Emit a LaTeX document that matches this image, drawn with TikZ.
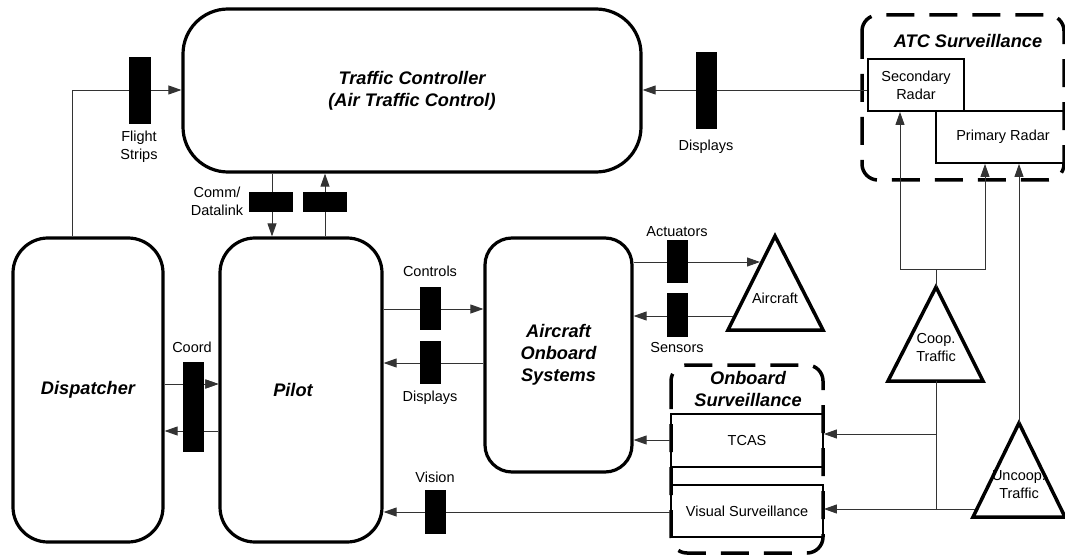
\documentclass[tikz,border=0pt]{standalone}
\usepackage{fontspec}
\setmainfont{Liberation Sans}
\usetikzlibrary{arrows.meta}
\tikzset{
  bigbox/.style={draw, line width=3.2pt, inner sep=0pt, align=center,
    font=\fontsize{18.2}{22}\selectfont\bfseries\itshape},
  radarbox/.style={draw, line width=1.8pt, inner sep=0pt, align=center,
    font=\fontsize{14.5}{18}\selectfont},
  bar/.style={fill=black, draw=none, inner sep=0pt},
  lbl/.style={inner sep=0pt, align=center, font=\fontsize{14.5}{18}\selectfont},
  title/.style={inner sep=0pt, align=center, font=\fontsize{18.2}{22}\selectfont\bfseries\itshape},
  conn/.style={line width=0.9pt, draw=black!80},
  arr/.style={conn, -{Triangle[length=13pt,width=9pt]}},
  tri/.style={draw, line width=3.5pt, line join=miter},
  grp/.style={draw, line width=3.5pt, dash pattern=on 28pt off 15pt, rounded corners=16pt}
}
\begin{document}
\begin{tikzpicture}[x=1pt,y=-1pt]
\useasboundingbox (0,0) rectangle (1065,556);
\clip (0,0) rectangle (1065,556);

% main boxes
\node[bigbox, rounded corners=45pt, minimum width=458pt, minimum height=163pt] (tc) at (412,90.5)
  {Traffic Controller\\(Air Traffic Control)};
\node[bigbox, rounded corners=35pt, minimum width=150pt, minimum height=304pt] (disp) at (88,390) {Dispatcher};
\node[bigbox, rounded corners=35pt, minimum width=162pt, minimum height=304pt] (pilot) at (301,390) {};
\node[title] (pilotText) at (293,390) {Pilot};
\node[bigbox, rounded corners=27pt, minimum width=147pt, minimum height=234pt] (aos) at (558.5,355)
  {Aircraft\\Onboard\\Systems};

% ATC surveillance
\node[radarbox, minimum width=134pt, minimum height=52pt] (prim) at (1003,137) {Primary Radar};
\node[radarbox, minimum width=96pt, minimum height=52pt] (sec) at (916,85) {Secondary\\Radar};
\draw[grp] (862,15) rectangle (1064,180);
\node[title] (atcTitle) at (968,41) {ATC Surveillance};

% onboard surveillance
\node[radarbox, minimum width=152pt, minimum height=53pt] (tcas) at (747,440.5) {TCAS};
\node[radarbox, minimum width=152pt, minimum height=52pt] (vis) at (747,511) {Visual Surveillance};
\draw[grp] (671,365) rectangle (823,553);
\node[title] (obTitle) at (748,389) {Onboard\\Surveillance};

% triangles
\draw[tri] (775,236) coordinate (acApex) -- (823,330) -- (728,330) -- cycle;
\node[lbl] (acText) at (775,298) {Aircraft};
\draw[tri] (936,287) coordinate (coopApex) -- (983,381) -- (888,381) coordinate (coopBL) -- cycle;
\coordinate (coopBase) at (936,381);
\node[lbl] (coopText) at (936,348) {Coop.\\Traffic};
\draw[tri] (1019,423) coordinate (uncApex) -- (1065,517) -- (973,517) -- cycle;
\node[lbl] (uncText) at (1019,485) {Uncoop.\\Traffic};

% named connector points
\coordinate (fsStart) at (72,238);
\coordinate (acIn) at (760,262);
\coordinate (acOut) at (733,316);
\coordinate (cj) at (936,269);
\coordinate (tcasJ) at (936,434);
\coordinate (visJ) at (936,509);
\coordinate (uncL) at (975,509);

\coordinate (fsY) at (0,90);
\coordinate (coordR) at (0,384);
\coordinate (coordL) at (0,431);

% connectors
\draw[arr] (disp.north -| fsStart) |- (tc.west |- fsY);
\draw[arr] (tc.south -| 272,0) -- (pilot.north -| 272,0);
\draw[arr] (pilot.north -| 325,0) -- (tc.south -| 325,0);
\draw[arr] (sec.west |- fsY) -- (tc.east |- fsY);
\draw[arr] (pilot.east |- 0,309) -- (aos.west |- 0,309);
\draw[arr] (aos.west |- 0,363) -- (pilot.east |- 0,363);
\draw[arr] (aos.east |- acIn) -- (acIn);
\draw[arr] (acOut) -- (aos.east |- acOut);
\draw[arr] (disp.east |- coordR) -- (pilot.west |- coordR);
\draw[arr] (pilot.west |- coordL) -- (disp.east |- coordL);
\draw[arr] (tcas.west |- 0,440) -- (aos.east |- 0,440);
\draw[arr] (vis.west |- 0,512) -- (pilot.east |- 0,512);
\draw[conn] (coopApex) -- (cj);
\draw[arr] (cj) -| (sec.south -| 900,0);
\draw[arr] (cj) -| (prim.south -| 985,0);
\draw[arr] (uncApex) -- (prim.south -| uncApex);
\draw[conn] (coopBase) -- (visJ);
\draw[arr] (tcasJ) -- (tcas.east |- tcasJ);
\draw[arr] (uncL) -- (vis.east |- uncL);

% bars
\node[bar, minimum width=22pt, minimum height=67pt] (fsbar) at (140,90.5) {};
\node[bar, minimum width=21pt, minimum height=77pt] (dispbar) at (706.5,90.5) {};
\node[bar, minimum width=44pt, minimum height=20pt] (cb1) at (271,202) {};
\node[bar, minimum width=44pt, minimum height=20pt] (cb2) at (325,202) {};
\node[bar, minimum width=21pt, minimum height=43pt] (ctrlbar) at (430.5,308.5) {};
\node[bar, minimum width=21pt, minimum height=43pt] (dbar2) at (430.5,362.5) {};
\node[bar, minimum width=21pt, minimum height=43pt] (abar) at (677.5,261.5) {};
\node[bar, minimum width=21pt, minimum height=44pt] (sbar) at (677.5,315) {};
\node[bar, minimum width=21pt, minimum height=90pt] (coordbar) at (193.5,407) {};
\node[bar, minimum width=21pt, minimum height=44pt] (vbar) at (435.5,512) {};

% arrow head of the coord arrow shown above the bar
\draw[arr] (coordbar.east |- coordR) -- (pilot.west |- coordR);

% labels
\node[lbl] (fsText) at (139,147) {Flight\\Strips};
\node[lbl] (commText) at (217,201) {Comm/\\Datalink};
\node[lbl] (dispText) at (706,147) {Displays};
\node[lbl] (ctrlText) at (430,271) {Controls};
\node[lbl] (d2Text) at (430,398) {Displays};
\node[lbl] (actText) at (677,232) {Actuators};
\node[lbl] (senText) at (677,348) {Sensors};
\node[lbl] (coordText) at (192,347) {Coord};
\node[lbl] (visText) at (435,477) {Vision};
\end{tikzpicture}
\end{document}
